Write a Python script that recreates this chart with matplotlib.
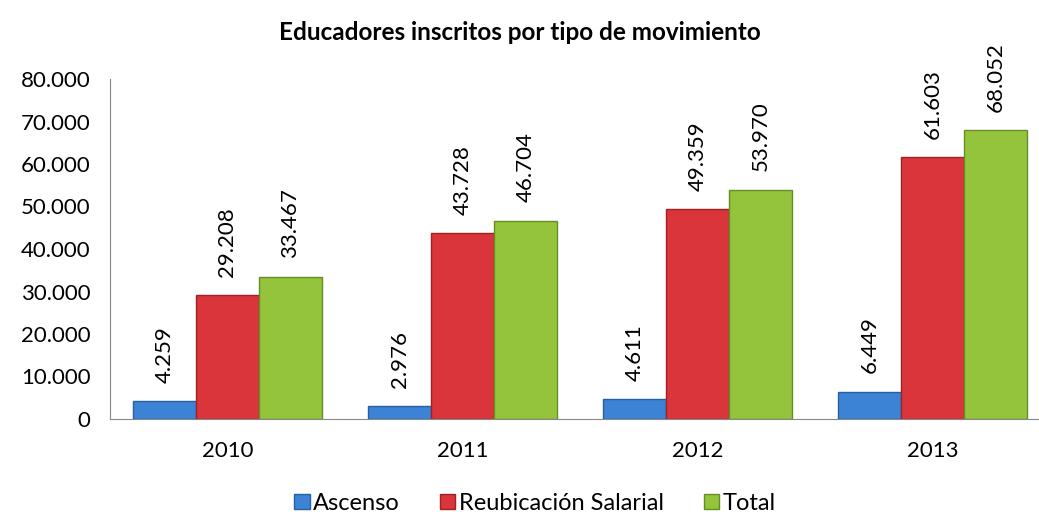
import numpy as np
from matplotlib import pyplot as plt

# data
years = ['2010', '2011', '2012', '2013']
ascenso = [4259, 2976, 4611, 6449]
reubicacion = [29208, 43728, 49359, 61603]
total = [33467, 46704, 53970, 68052]

series = [('Ascenso', ascenso, '#3C83D6', '#2A5F9E'),
          ('Reubicación Salarial', reubicacion, '#D9353A', '#9C2226'),
          ('Total', total, '#94C33C', '#688C25')]

plt.rcParams['font.family'] = ['Lato', 'DejaVu Sans']

fig = plt.figure(figsize=(10.39, 5.22), dpi=100)
# axis runs past the right edge of the picture, as in the original
ax = fig.add_axes([110 / 1039, 1 - 419 / 522, 940 / 1039, 340 / 522])

x = np.arange(len(years))
w = 0.268

def fmt(v):
    return '{:,}'.format(v).replace(',', '.')

for k, (name, vals, fc, ec) in enumerate(series):
    pos = x + (k - 1) * w
    ax.bar(pos, vals, w, color=fc, edgecolor=ec, linewidth=1.0, label=name, zorder=2)
    for p, v in zip(pos, vals):
        ax.text(p, v + 4300, fmt(v), rotation=90, ha='center', va='bottom', fontsize=16, color='black')

ax.set_ylim(0, 80000)
ax.set_xlim(-0.5, 3.5)
ax.set_yticks(np.arange(0, 80001, 10000))
ax.set_yticklabels([fmt(v) for v in range(0, 80001, 10000)], fontsize=16)
ax.set_xticks(x)
ax.set_xticklabels(years, fontsize=16)
ax.tick_params(axis='y', length=0, pad=14)
ax.tick_params(axis='x', length=0, pad=16)

for s in ['top', 'right']:
    ax.spines[s].set_visible(False)
ax.spines['left'].set_color('#888888')
ax.spines['bottom'].set_color('#888888')

fig.suptitle('Educadores inscritos por tipo de movimiento', fontsize=17.5, fontweight='bold', y=0.96)

fig.legend(loc='lower center', bbox_to_anchor=(0.515, -0.025), ncol=3, frameon=False, fontsize=17,
           handlelength=0.65, handleheight=0.65, handletextpad=0.15, columnspacing=1.7)

plt.savefig('out.png', dpi=100)
